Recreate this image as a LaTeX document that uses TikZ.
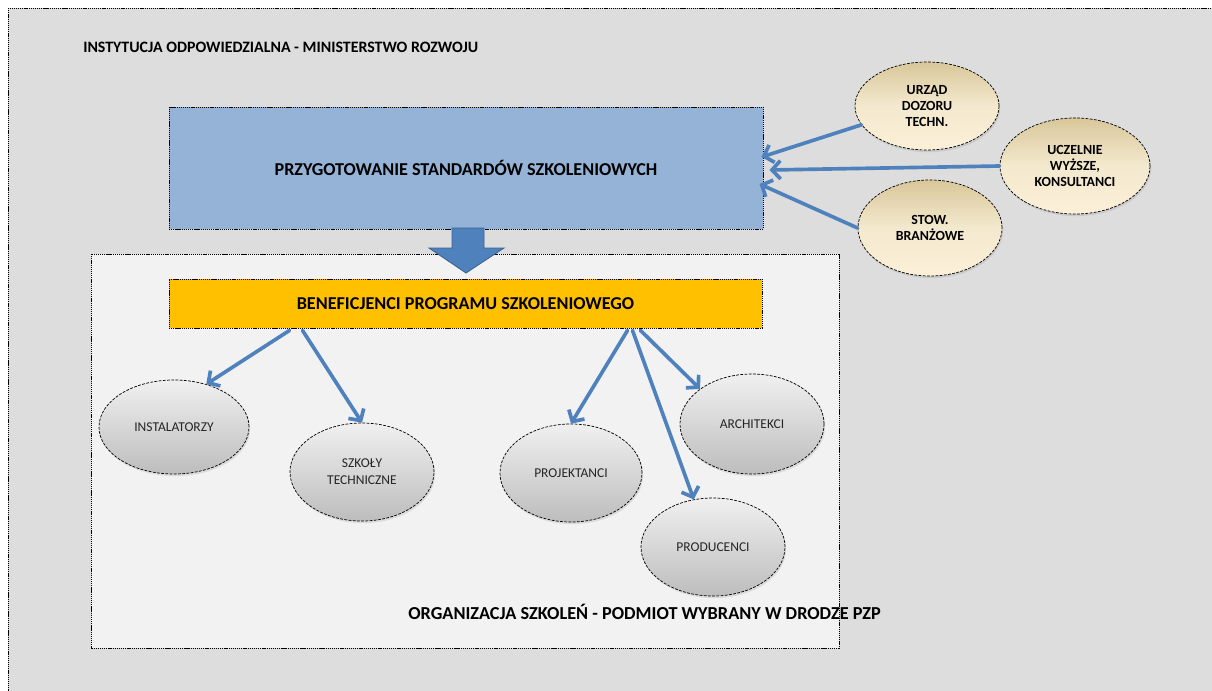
\documentclass[tikz,border=0pt]{standalone}
\usepackage{fontspec}
\setmainfont{Carlito}
\usetikzlibrary{arrows.meta,calc,shapes.geometric,shadows}
\definecolor{framegray}{HTML}{DDDDDD}
\definecolor{innergray}{HTML}{F2F2F2}
\definecolor{stdblue}{HTML}{95B3D7}
\definecolor{benorange}{HTML}{FFC000}
\definecolor{arrowblue}{HTML}{4F81BD}
\definecolor{arrowedge}{HTML}{3A6190}
\definecolor{creamtop}{HTML}{D9C79A}
\definecolor{creammid}{HTML}{F3E9CE}
\definecolor{creambot}{HTML}{FCF0D8}
\definecolor{greytop}{HTML}{F0F0F0}
\definecolor{greybot}{HTML}{BDBDBD}

\begin{document}
\begin{tikzpicture}[x=0.025cm, y=-0.025cm,
        area/.style={draw=black, dash pattern=on 0.9pt off 0.6pt, line width=0.6pt},
        box/.style={area, inner sep=0pt, align=center,
            font=\fontsize{12.9}{15}\selectfont\bfseries},
        heading/.style={inner sep=0pt, anchor=west, font=\fontsize{13}{15}\selectfont\bfseries},
        group/.style={ellipse, draw=black, dash pattern=on 2pt off 1pt, line width=0.5pt,
            minimum width=3.6cm, minimum height=2.45cm, inner sep=0pt, align=center,
            top color=greytop, bottom color=greybot, text=black!85,
            font=\fontsize{9.6}{12}\selectfont,
            drop shadow={opacity=0.2, shadow xshift=0.8pt, shadow yshift=-1.5pt}},
        partner/.style={ellipse, draw=black, dash pattern=on 2pt off 1pt, line width=0.5pt,
            minimum width=3.6cm, minimum height=2.4cm, inner sep=0pt, align=center,
            top color=creamtop, bottom color=creambot, middle color=creammid,
            font=\fontsize{9.9}{11.5}\selectfont\bfseries,
            drop shadow={opacity=0.2, shadow xshift=0.8pt, shadow yshift=-1.5pt}},
        arrow/.style={-{Straight Barb[length=6pt,width=13pt]}, arrowblue, line width=2.6pt, line cap=round}
    ]
    \useasboundingbox (0,0) rectangle (1212,691);
    \clip (0,0) rectangle (1212,691);
    % Areas
    \draw[area, fill=framegray] (8,8) rectangle (1230,710);
    \draw[area, fill=innergray] (91,254) rectangle (839,648);
    \node[heading, font=\fontsize{11.3}{14}\selectfont\bfseries] (ministry) at (83,47)
        {INSTYTUCJA ODPOWIEDZIALNA - MINISTERSTWO ROZWOJU};
    \node[heading] (organizer) at (408,612) {ORGANIZACJA SZKOLEŃ - PODMIOT WYBRANY W DRODZE PZP};
    % Boxes
    \node[box, fill=stdblue, minimum width=14.85cm, minimum height=3.05cm] (standards) at (466,168)
        {PRZYGOTOWANIE STANDARDÓW SZKOLENIOWYCH};
    \node[box, fill=benorange, minimum width=14.825cm, minimum height=1.225cm] (benef) at (465.5,303.5)
        {BENEFICJENCI PROGRAMU SZKOLENIOWEGO};
    % Big arrow
    \draw[fill=arrowblue, draw=arrowedge, line width=0.6pt]
        (452,228) -- (484,228) -- (484,248) -- (504,248) -- (466,273) -- (429,248) -- (452,248) -- cycle;
    % Partners
    \node[partner, minimum height=2.2cm] (urzad) at (927,106) {URZĄD\\DOZORU\\TECHN.};
    \node[partner, minimum width=3.75cm] (uczelnie) at (1075,166) {UCZELNIE\\WYŻSZE,\\KONSULTANCI};
    \node[partner] (stow) at (930,228) {STOW.\\BRANŻOWE};
    % Groups
    \node[group, minimum width=3.75cm, minimum height=2.35cm] (instal) at (174,427) {INSTALATORZY};
    \node[group] (szkoly) at (362,472) {SZKOŁY\\TECHNICZNE};
    \node[group, minimum width=3.55cm] (proj) at (571,473) {PROJEKTANCI};
    \node[group, minimum height=2.5cm] (arch) at (752,424) {ARCHITEKCI};
    \node[group] (prod) at (713,547) {PRODUCENCI};
    % Edges
    \draw[arrow] (urzad.196) -- ($(standards.east)+(-2,-11)$);
    \draw[arrow] (uczelnie.west) -- ($(standards.east)+(6,2)$);
    \draw[arrow] (stow.west) -- ($(standards.east)+(-4,16)$);
    \draw[arrow] ($(benef.south)+(-176,2)$) -- (instal.53);
    \draw[arrow] ($(benef.south)+(-163,2)$) -- (szkoly.north);
    \draw[arrow] ($(benef.south)+(162,2)$) -- (proj.north);
    \draw[arrow] ($(benef.south)+(167,2)$) -- (prod.112);
    \draw[arrow] ($(benef.south)+(175,2)$) -- (arch.146);
\end{tikzpicture}
\end{document}
